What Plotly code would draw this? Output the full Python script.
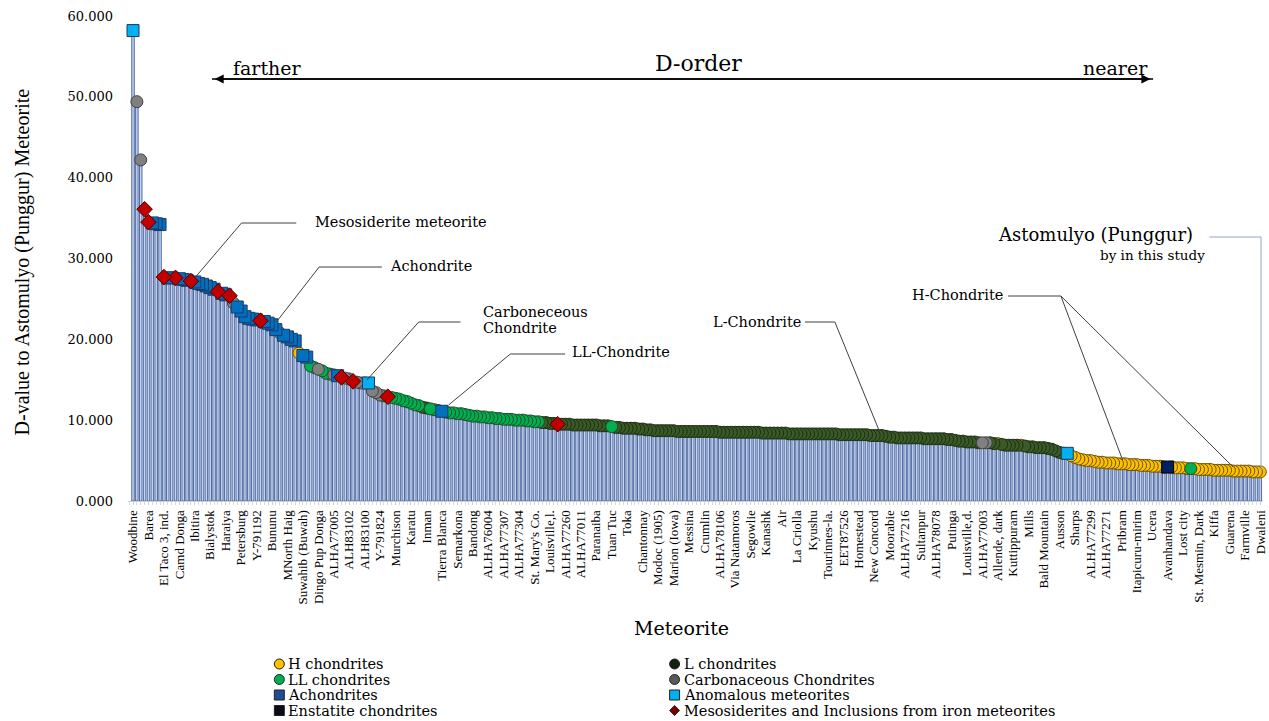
import plotly.graph_objects as go

# ---------------- data ----------------
labels = ["Woodbine", "Barea", "El Taco 3, ind.", "Camd Donga", "Ibitira", "Bialystok", "Haraiya",
          "Petersburg", "Y-791192", "Bununu", "MNorth Haig", "Suwahib (Buwah)", "Dingo Pup Donga",
          "ALHA77005", "ALH83102", "ALH83100", "Y-791824", "Murchison", "Karatu", "Inman",
          "Tierra Blanca", "Semarkona", "Bandong", "ALHA76004", "ALHA77307", "ALHA77304",
          "St. Mary's Co.", "Louisville,l.", "ALHA77260", "ALHA77011", "Paranaiba", "Tuan Tuc",
          "Toka", "Chantonnay", "Modoc (1905)", "Marion (Iowa)", "Messina", "Crumlin", "ALHA78106",
          "Via Natamoros", "Segowlie", "Kanashk", "Air", "La Criolla", "Kyushu", "Tourinnes-la.",
          "EET87526", "Homestead", "New Concord", "Moorabie", "ALHA77216", "Sultanpur", "ALHA78078",
          "Putinga", "Louisville,d.", "ALHA77003", "Allende, dark", "Kuttippuram", "Mills",
          "Bald Mountain", "Ausson", "Sharps", "ALHA77299", "ALHA77271", "Pribram",
          "Itapicuru-mirim", "Ucera", "Avanhandava", "Lost city", "St. Mesmin, Dark", "Kiffa",
          "Guarena", "Farmville", "Dwaleni"]

d_values = [
    58.2, 49.4, 42.2, 36.1, 34.5, 34.4, 34.3, 34.2, 27.7, 27.6,
    27.6, 27.6, 27.5, 27.4, 27.3, 27.2, 27.1, 26.9, 26.8, 26.6,
    26.4, 26.2, 25.9, 25.7, 25.5, 25.4, 24.5, 24.0, 23.5, 22.8,
    22.6, 22.5, 22.4, 22.3, 22.2, 22.0, 21.8, 21.2, 20.8, 20.5,
    20.3, 20.0, 19.8, 18.3, 18.0, 17.8, 16.7, 16.5, 16.3, 16.1,
    15.8, 15.7, 15.6, 15.5, 15.3, 15.2, 15.1, 14.8, 14.7, 14.6,
    14.6, 14.6, 13.6, 13.4, 13.1, 13.0, 12.9, 12.8, 12.7, 12.6,
    12.4, 12.3, 12.1, 11.9, 11.8, 11.6, 11.5, 11.4, 11.3, 11.2,
    11.1, 11.0, 10.9, 10.9, 10.8, 10.8, 10.7, 10.6, 10.5, 10.5,
    10.4, 10.4, 10.3, 10.3, 10.2, 10.2, 10.1, 10.1, 10.1, 10.0,
    10.0, 10.0, 9.9, 9.9, 9.8, 9.8, 9.7, 9.7, 9.6, 9.6,
    9.5, 9.5, 9.5, 9.5, 9.4, 9.4, 9.4, 9.4, 9.4, 9.4,
    9.4, 9.3, 9.3, 9.3, 9.2, 9.1, 9.1, 9.0, 9.0, 9.0,
    9.0, 8.9, 8.9, 8.8, 8.8, 8.7, 8.7, 8.7, 8.7, 8.7,
    8.7, 8.6, 8.6, 8.6, 8.6, 8.6, 8.6, 8.6, 8.6, 8.6,
    8.6, 8.6, 8.5, 8.5, 8.5, 8.5, 8.5, 8.5, 8.5, 8.5,
    8.5, 8.5, 8.5, 8.4, 8.4, 8.4, 8.4, 8.4, 8.4, 8.4,
    8.3, 8.3, 8.3, 8.3, 8.3, 8.3, 8.3, 8.3, 8.3, 8.3,
    8.3, 8.3, 8.3, 8.2, 8.2, 8.2, 8.2, 8.2, 8.2, 8.2,
    8.2, 8.1, 8.1, 8.1, 8.1, 8.0, 7.9, 7.9, 7.8, 7.8,
    7.8, 7.8, 7.8, 7.8, 7.8, 7.7, 7.7, 7.7, 7.7, 7.7,
    7.7, 7.6, 7.6, 7.5, 7.4, 7.4, 7.3, 7.3, 7.3, 7.2,
    7.2, 7.2, 7.2, 7.1, 7.1, 7.0, 6.9, 6.9, 6.9, 6.9,
    6.9, 6.8, 6.7, 6.7, 6.6, 6.6, 6.6, 6.5, 6.4, 6.2,
    6.0, 5.9, 5.9, 5.6, 5.4, 5.2, 5.1, 5.0, 5.0, 4.9,
    4.8, 4.8, 4.7, 4.7, 4.7, 4.6, 4.6, 4.6, 4.5, 4.5,
    4.5, 4.4, 4.4, 4.4, 4.3, 4.3, 4.3, 4.2, 4.2, 4.2,
    4.1, 4.1, 4.1, 4.0, 4.0, 4.0, 3.9, 3.9, 3.9, 3.9,
    3.8, 3.8, 3.8, 3.8, 3.8, 3.7, 3.7, 3.7, 3.7, 3.7,
    3.6, 3.6, 3.6,
]

# meteorite class of every bar (same order as d_values)
classes = (
    "An C C M M A A A M A "
    "A M A A A M A A A A "
    "A A M A A M C A A A "
    "A A A M A A A A C A "
    "A A A H A A LL LL C LL "
    "LL LL C A M C C M C C "
    "C An C C C LL M LL LL LL "
    "LL LL LL LL LL L L LL LL LL "
    "A LL LL LL LL LL LL LL LL LL "
    "LL LL LL LL LL LL LL LL LL LL "
    "LL LL LL LL LL LL L L L L "
    "M L L L L L L L L L "
    "L L L L LL L L L L L "
    "L L L L L L L L L L "
    "L L L L L L L L L L "
    "L L L L L L L L L L "
    "L L L L L L L L L L "
    "L L L L L L L L L L "
    "L L L L L L L L L L "
    "L L L L L L L L L L "
    "L L L L L L L L L L "
    "L L L L L L L L L L "
    "C C L L H L L L L L "
    "H L L L L L L L L L "
    "L L An H H H H H H H "
    "H H H H H H H H H H "
    "H H H H H H H H E H "
    "H H H H LL H H H H H "
    "H H H H H H H H H H "
    "H H H"
).split()

class_names = {
    "H": "H chondrites", "L": "L chondrites", "LL": "LL chondrites",
    "C": "Carbonaceous Chondrites", "A": "Achondrites", "An": "Anomalous meteorites",
    "E": "Enstatite chondrites", "M": "Mesosiderites and Inclusions from iron meteorites",
}

# ---------------- styles ----------------
STY = {
    "L":  dict(symbol="circle",  color="#3A5A27", line="#1C2E12"),
    "LL": dict(symbol="circle",  color="#00B050", line="#1D4F2A"),
    "H":  dict(symbol="circle",  color="#FFC000", line="#6B5200"),
    "C":  dict(symbol="circle",  color="#808080", line="#404040"),
    "A":  dict(symbol="square",  color="#0070C0", line="#1F3864"),
    "An": dict(symbol="square",  color="#00B0F0", line="#1F3864"),
    "E":  dict(symbol="square",  color="#002060", line="#000000"),
    "M":  dict(symbol="diamond", color="#C00000", line="#500000"),
}
FONT = "Liberation Serif"
HFONT = "DejaVu Serif"

W, H = 1269, 721
ML, MR, MT, MB = 128, 1, 16, 220
PW, PH = W - ML - MR, H - MT - MB


def px(x):
    return (x - ML) / PW


def py(y):
    return (H - MB - y) / PH


idx = list(range(len(d_values)))
fig = go.Figure()

fig.add_trace(go.Bar(
    x=idx, y=d_values, marker=dict(color="#C6D3EE", line=dict(color="#3E5C98", width=0.9)),
    hoverinfo="y", showlegend=False,
))

for code in ["H", "L", "LL", "C", "A", "An", "E", "M"]:
    pts = [i for i in idx if classes[i] == code][::-1]
    s = STY[code]
    fig.add_trace(go.Scatter(
        x=pts, y=[d_values[i] for i in pts], mode="markers", name=class_names[code],
        cliponaxis=False, showlegend=False,
        marker=dict(symbol=s["symbol"], size=12, color=s["color"],
                    line=dict(color=s["line"], width=1)),
    ))

tickvals = list(range(0, len(d_values), 4))

fig.update_layout(
    width=W, height=H, margin=dict(l=ML, r=MR, t=MT, b=MB),
    plot_bgcolor="white", paper_bgcolor="white", bargap=0.35, showlegend=False,
    font=dict(family=FONT, color="black"),
    xaxis=dict(range=[-1.3, len(d_values) - 0.3], tickmode="array", tickvals=tickvals,
               ticktext=labels, tickangle=-90, tickfont=dict(size=13, family=FONT),
               ticklabeloverflow="allow",
               showline=True, linecolor="#D0D0D0", ticks="outside", ticklen=3,
               tickcolor="#D0D0D0", showgrid=False, zeroline=False,
               minor=dict(tickmode="linear", tick0=0, dtick=1, ticks="outside",
                          ticklen=3, tickcolor="#D9D9D9")),
    yaxis=dict(range=[0, 60], dtick=10, tickformat=".3f", tickfont=dict(size=13, family=HFONT),
               showgrid=False, zeroline=False, showline=False, ticklabelstandoff=14),
)

ann = []
shapes = []


def text(x, y, t, size, anchor="left", **kw):
    ann.append(dict(x=px(x), y=py(y), xref="paper", yref="paper", text=t, showarrow=False,
                    xanchor=anchor, yanchor="middle", font=dict(size=size, family=HFONT, color="black"),
                    **kw))


def seg(x0, y0, x1, y1, color="#404040", width=1):
    shapes.append(dict(type="line", xref="paper", yref="paper", x0=px(x0), y0=py(y0),
                       x1=px(x1), y1=py(y1), line=dict(color=color, width=width)))


# axis titles
ann.append(dict(x=px(22), y=py(262), xref="paper", yref="paper", text="D-value to Astomulyo (Punggur) Meteorite",
                showarrow=False, textangle=-90, xanchor="center", yanchor="middle",
                font=dict(size=20, family=FONT)))
text(684, 628, "Meteorite", 19, anchor="center")

# D-order arrow
text(231, 68, "farther", 19)
text(701, 64, "D-order", 22, anchor="center")
text(1085, 68, "nearer", 19)
for xh, xt in [(215, 1155), (1155, 215)]:
    ann.append(dict(x=px(xh), y=py(79), xref="paper", yref="paper", text="", showarrow=True,
                    ax=xt - xh, ay=0, arrowhead=2, arrowsize=1.3, arrowwidth=1.4,
                    arrowcolor="black", standoff=0))

# callouts
text(314, 222, "Mesosiderite meteorite", 14.5)
seg(297, 223, 242, 223); seg(242, 223, 195, 278)
text(389, 266, "Achondrite", 14.5)
seg(383, 267, 320, 267); seg(320, 267, 277, 322)
text(483, 312, "Carboneceous", 14.5)
text(483, 328, "Chondrite", 14.5)
seg(462, 322, 420, 322); seg(420, 322, 368, 380)
text(572, 352, "LL-Chondrite", 14.5)
seg(567, 354, 512, 354); seg(512, 354, 450, 405)
text(714, 322, "L-Chondrite", 14.5)
seg(808, 322, 838, 322); seg(838, 322, 883, 432)
text(913, 295, "H-Chondrite", 14.5)
seg(1012, 296, 1065, 296); seg(1065, 296, 1127, 460); seg(1065, 296, 1238, 467)
text(1000, 235, "Astomulyo (Punggur)", 18)
text(1102, 255, "by in this study", 13.5)
seg(1214, 237, 1266, 237, color="#8FA8C8"); seg(1266, 237, 1266, 470, color="#8FA8C8")

# legend (two columns)
rows = [664, 679.5, 695, 710.5]
legend_layout = [
    ("H", 280, rows[0]), ("LL", 280, rows[1]), ("A", 280, rows[2]), ("E", 280, rows[3]),
    ("L", 677, rows[0]), ("C", 677, rows[1]), ("An", 677, rows[2]), ("M", 677, rows[3]),
]
legend_fill = {"L": "#10230F", "C": "#5A5A5A", "A": "#1F4E99", "E": "#0A0A1A", "M": "#7A0000"}
for code, cx, cy in legend_layout:
    s = STY[code]
    fill = legend_fill.get(code, s["color"])
    r = 5
    if s["symbol"] == "circle":
        shapes.append(dict(type="circle", xref="paper", yref="paper", x0=px(cx - r), x1=px(cx + r),
                           y0=py(cy + r), y1=py(cy - r), fillcolor=fill, line=dict(color="#202020", width=1)))
    elif s["symbol"] == "square":
        shapes.append(dict(type="rect", xref="paper", yref="paper", x0=px(cx - r), x1=px(cx + r),
                           y0=py(cy + r), y1=py(cy - r), fillcolor=fill, line=dict(color="#202020", width=1)))
    else:
        path = "M {a},{b} L {c},{d} L {a},{e} L {f},{d} Z".format(
            a=px(cx), b=py(cy - 5), c=px(cx + 5), d=py(cy), e=py(cy + 5), f=px(cx - 5))
        shapes.append(dict(type="path", xref="paper", yref="paper", path=path, fillcolor=fill,
                           line=dict(color="#202020", width=1)))
    text(cx + 7, cy, class_names[code], 14.5)

fig.update_layout(annotations=ann, shapes=shapes)
fig.write_html("out.html")
